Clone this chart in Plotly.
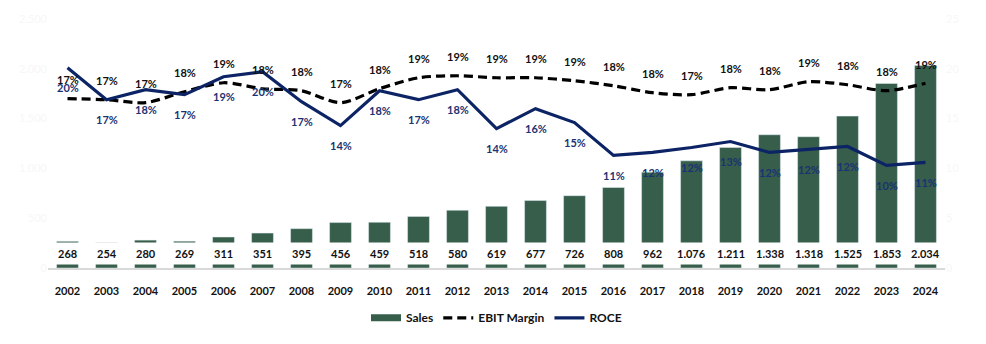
import plotly.graph_objects as go

years = [str(y) for y in range(2002, 2025)]
sales = [268, 254, 280, 269, 311, 351, 395, 456, 459, 518, 580, 619, 677,
         726, 808, 962, 1076, 1211, 1338, 1318, 1525, 1853, 2034]
ebit_margin = [17.0, 16.9, 16.6, 17.7, 18.6, 18.0, 17.8, 16.6, 18.0, 19.1, 19.3, 19.1,
               19.1, 18.8, 18.3, 17.6, 17.4, 18.1, 17.9, 18.7, 18.4, 17.8, 18.55]
roce = [20.1, 16.9, 17.9, 17.4, 19.2, 19.7, 16.7, 14.3, 17.8, 16.9, 17.9, 14.0,
        16.0, 14.6, 11.3, 11.6, 12.1, 12.7, 11.6, 11.9, 12.2, 10.3, 10.6]

GREEN = "#365E4B"
NAVY = "#0C2465"
NAVY_TXT = "#1B3372"
FONT = "Lato"
FS = 11

fig = go.Figure()
fig.add_bar(x=years, y=sales, marker_color=GREEN, showlegend=False, name="Sales",
            hoverinfo="skip")
# legend stand-in for the bars (wide flat swatch)
fig.add_scatter(x=[None], y=[None], mode="lines", name="Sales",
                line=dict(color=GREEN, width=7))
fig.add_scatter(x=years, y=ebit_margin, yaxis="y2", mode="lines", name="EBIT Margin",
                line=dict(color="black", width=3.2, dash="9px,5px", shape="spline", smoothing=0.8))
fig.add_scatter(x=years, y=roce, yaxis="y2", mode="lines", name="ROCE",
                line=dict(color=NAVY, width=3.2))

for i, v in enumerate(sales):
    fig.add_annotation(x=i, y=0, xref="x", yref="y", yanchor="middle", yshift=15,
                       text="<b>" + f"{v:,}".replace(",", ".") + "</b>", showarrow=False,
                       bgcolor="white", borderpad=4,
                       font=dict(family=FONT, size=FS, color="#111111"))
for i, v in enumerate(ebit_margin):
    fig.add_annotation(x=i, y=v, xref="x", yref="y2", yanchor="middle", yshift=19,
                       text=f"<b>{v:.0f}%</b>", showarrow=False,
                       font=dict(family=FONT, size=FS, color="#111111"))
for i, v in enumerate(roce):
    fig.add_annotation(x=i, y=v, xref="x", yref="y2", yanchor="middle", yshift=-20,
                       text=f"<b>{v:.0f}%</b>", showarrow=False,
                       font=dict(family=FONT, size=FS, color=NAVY_TXT))

fig.update_layout(
    width=986, height=344,
    margin=dict(l=48, r=41, t=16, b=72),
    paper_bgcolor="white", plot_bgcolor="white",
    bargap=0.44,
    xaxis=dict(type="category", categoryorder="array", categoryarray=years,
               range=[-0.5, 22.5], showgrid=False, zeroline=False,
               showline=True, linecolor="#d9d9d9", linewidth=2,
               ticks="outside", ticklen=12, tickcolor="rgba(0,0,0,0)",
               tickfont=dict(family=FONT, size=FS, color="#111111", weight="bold")),
    yaxis=dict(range=[0, 2500], tickvals=[0, 500, 1000, 1500, 2000, 2500],
               ticktext=["0", "500", "1.000", "1.500", "2.000", "2.500"],
               showgrid=False, zeroline=False, showline=False,
               tickfont=dict(family=FONT, size=FS, color="#f7f7f7")),
    yaxis2=dict(range=[0, 25], overlaying="y", side="right",
                tickvals=[0, 5, 10, 15, 20, 25], ticksuffix="%",
                showgrid=False, zeroline=False, showline=False,
                tickfont=dict(family=FONT, size=FS, color="#f7f7f7")),
    legend=dict(orientation="h", x=0.5, xanchor="center", y=-0.2, yanchor="middle",
                font=dict(family=FONT, size=12, color="#111111", weight="bold"),
                bgcolor="rgba(0,0,0,0)", traceorder="normal"),
    showlegend=True,
)

fig.write_html("out.html")
